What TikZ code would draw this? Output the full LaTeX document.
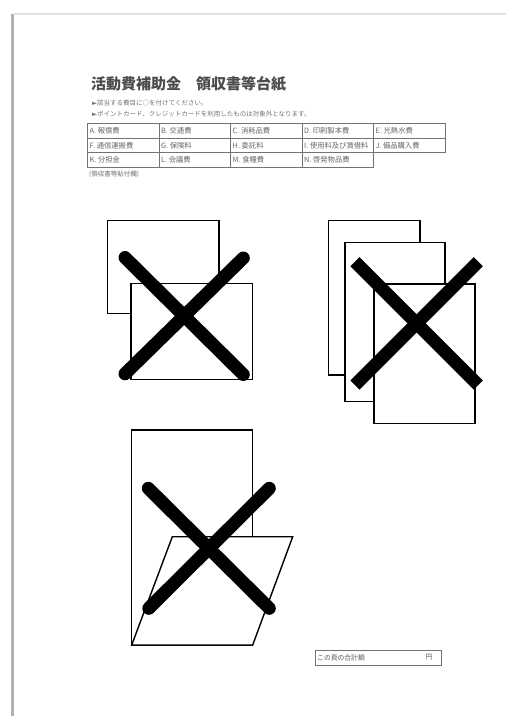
\documentclass[tikz,border=0pt]{standalone}
\usepackage{fontspec}
\newfontfamily\jp{Noto Sans CJK JP}
\newfontfamily\sym{DejaVu Sans}
\newcommand{\tri}{{\sym ►}}
\begin{document}
\begin{tikzpicture}[x=1pt,y=-1pt,
  small/.style={inner sep=0pt, anchor=west, font=\jp\fontsize{6.5}{7}\selectfont, text=black!55},
  cell/.style={inner sep=0pt, anchor=west, font=\jp\fontsize{7.3}{8}\selectfont, text=black!60},
  grid/.style={draw=black!55, line width=0.8pt},
  doc/.style={draw=black, line width=1.4pt, fill=white},
  crossr/.style={draw=black, line width=13pt, line cap=round},
  crossb/.style={draw=black, line width=13pt, line cap=butt}]
\useasboundingbox (0,0) rectangle (506,716);
\fill[white] (0,0) rectangle (506,716);
% page edge / shadow
\fill[black!30] (10.5,14) rectangle (13.5,716);
\fill[black!12] (13.5,13) rectangle (506,14.5);

% title and notes
\node[anchor=west, inner sep=0pt, font=\jp\bfseries\fontsize{15}{15}\selectfont, text=black!70] (title) at (91,84) {活動費補助金　領収書等台紙};
\node[small] (note1) at (92,103) {\tri 該当する費目に○を付けてください。};
\node[small] (note2) at (92,114) {\tri ポイントカード、クレジットカードを利用したものは対象外となります。};

% table
\draw[grid] (87.5,123.5) rectangle (445,152.5);
\draw[grid] (87.5,138) -- (445,138);
\draw[grid] (87.5,152.5) rectangle (373.5,167);
\foreach \x in {159,230.5,302,373.5} \draw[grid] (\x,123.5) -- (\x,167);
\node[cell] (ca) at (89.5,130.8) {A. 報償費};
\node[cell] (cb) at (161,130.8) {B. 交通費};
\node[cell] (cc) at (232.5,130.8) {C. 消耗品費};
\node[cell] (cd) at (304,130.8) {D. 印刷製本費};
\node[cell] (ce) at (375.5,130.8) {E. 光熱水費};
\node[cell] (cf) at (89.5,145.3) {F. 通信運搬費};
\node[cell] (cg) at (161,145.3) {G. 保険料};
\node[cell] (ch) at (232.5,145.3) {H. 委託料};
\node[cell] (ci) at (304,145.3) {I. 使用料及び賃借料};
\node[cell] (cj) at (375.5,145.3) {J. 備品購入費};
\node[cell] (ck) at (89.5,159.8) {K. 分担金};
\node[cell] (cl) at (161,159.8) {L. 会議費};
\node[cell] (cm) at (232.5,159.8) {M. 食糧費};
\node[cell] (cn) at (304,159.8) {N. 啓発物品費};
\node[small] (paste) at (89,174.5) {(領収書等貼付欄)};

% example 1: two overlapping sheets
\draw[doc] (107.3,220.7) rectangle (219,313.3);
\draw[doc] (131,283.3) rectangle (252.7,379.3);
\draw[crossr] (125,257.5) -- (243.3,374.5);
\draw[crossr] (243.3,258) -- (125,373.8);

% example 2: three stacked sheets
\draw[doc] (328.3,220.7) rectangle (420,375);
\draw[doc] (345,242.7) rectangle (445,401.7);
\draw[doc] (374,284) rectangle (475,423.3);
\draw[crossb] (355,261.7) -- (478.3,385);
\draw[crossb] (478.3,261.7) -- (355,385);

% example 3: tall sheet with slanted sheet
\draw[doc] (131.7,430) rectangle (252.7,645);
\draw[doc] (172.3,536.7) -- (292.7,536.7) -- (252.7,645) -- (131.7,645) -- cycle;
\draw[crossr] (148.3,488.3) -- (269.3,608.3);
\draw[crossr] (269.3,488.3) -- (148.8,608.3);

% total box
\draw[draw=black!55, line width=0.9pt] (315,650) rectangle (441.7,665);
\node[small, font=\jp\fontsize{6.8}{7}\selectfont, text=black!65] (total) at (317,657.5) {この頁の合計額};
\node[small, font=\jp\fontsize{6.8}{7}\selectfont, text=black!65] (yen) at (425.5,657.5) {円};
\end{tikzpicture}
\end{document}
